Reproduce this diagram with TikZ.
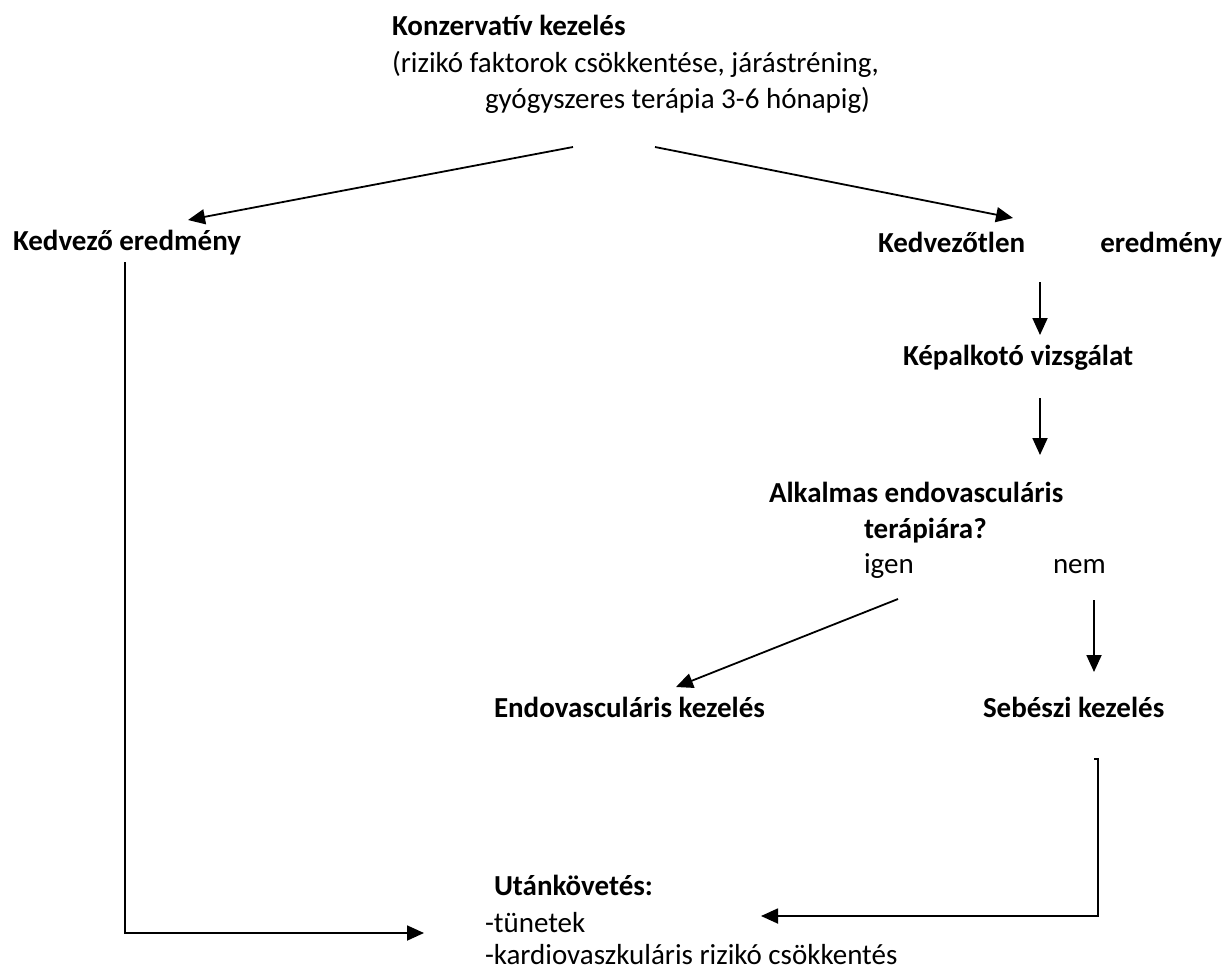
\documentclass[tikz,border=0pt]{standalone}
\usepackage{fontspec}
\setmainfont{Carlito}
\usetikzlibrary{arrows.meta}
\begin{document}
\begin{tikzpicture}[x=1pt,y=-1pt,
  every node/.style={inner sep=0pt, outer sep=0pt, anchor=base west, font=\fontsize{29}{36}\selectfont},
  bold/.style={font=\fontsize{29}{36}\selectfont\bfseries},
  arr/.style={line width=1.8pt, -{Triangle[length=17pt,width=15pt]}},
  ln/.style={line width=1.8pt}]
\useasboundingbox (0,0) rectangle (1226,969);
\fill[white] (0,0) rectangle (1226,969);
% texts
\node[bold] (konz) at (392,35) {Konzervatív kezelés};
\node (konz2) at (392,72) {(rizikó faktorok csökkentése, járástréning,};
\node (konz3) at (485,108) {gyógyszeres terápia 3-6 hónapig)};
\node[bold] (kedv) at (13,250) {Kedvező eredmény};
\node[bold] (kedvtl) at (878,252) {\hbox to 344pt{Kedvezőtlen\hfill eredmény}};
\node[bold] (kep) at (903,365) {Képalkotó vizsgálat};
\node[bold] (alk1) at (769,502) {Alkalmas endovasculáris};
\node[bold] (alk2) at (864,538) {terápiára?};
\node (igen) at (864,573) {igen};
\node (nem) at (1053,573) {nem};
\node[bold] (endo) at (494,717) {Endovasculáris kezelés};
\node[bold] (seb) at (983,717) {Sebészi kezelés};
\node[bold] (utan) at (494,895) {Utánkövetés:};
\node (tun) at (485,932) {-tünetek};
\node (kard) at (485,964) {-kardiovaszkuláris rizikó csökkentés};
% connector end points
\coordinate (a1s) at (573,147); \coordinate (a1e) at (188,220);
\coordinate (a2s) at (655,147); \coordinate (a2e) at (1013,218);
\coordinate (a3s) at (1040,282); \coordinate (a3e) at (1040,335);
\coordinate (a4s) at (1040,398); \coordinate (a4e) at (1040,455);
\coordinate (a5s) at (898,599); \coordinate (a5e) at (676,687);
\coordinate (a6s) at (1094,600); \coordinate (a6e) at (1094,672);
\coordinate (b1t) at (1094,759); \coordinate (b1s) at (1098,759);
\coordinate (b1c) at (1098,916); \coordinate (b1e) at (761,916);
\coordinate (b2s) at (125,262); \coordinate (b2c) at (125,933);
\coordinate (b2e) at (424,933);
% connectors
\draw[arr] (a1s) -- (a1e);
\draw[arr] (a2s) -- (a2e);
\draw[arr] (a3s) -- (a3e);
\draw[arr] (a4s) -- (a4e);
\draw[arr] (a5s) -- (a5e);
\draw[arr] (a6s) -- (a6e);
\draw[arr] (b1t) -- (b1s) -- (b1c) -- (b1e);
\draw[arr] (b2s) -- (b2c) -- (b2e);
\end{tikzpicture}
\end{document}
